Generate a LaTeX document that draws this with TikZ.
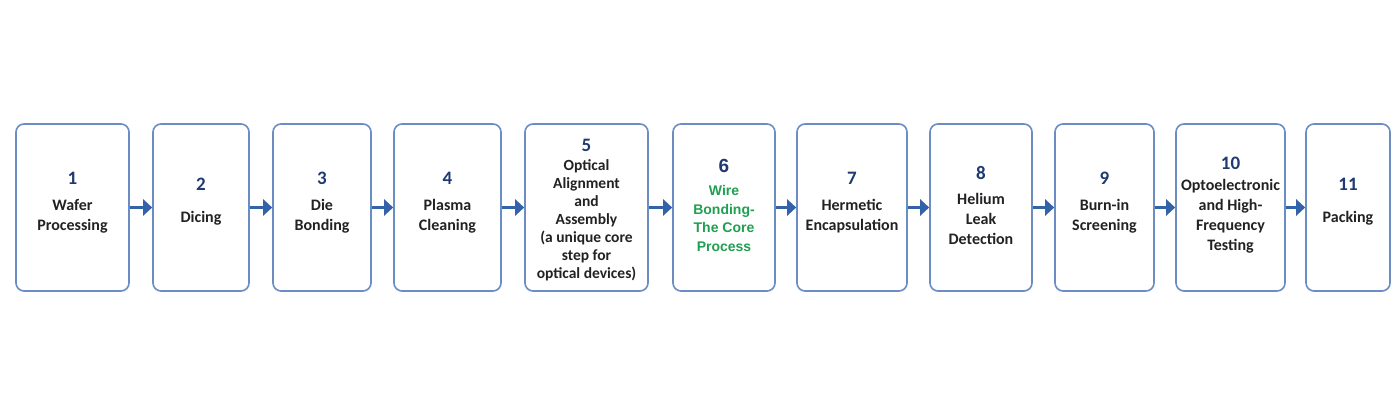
\documentclass[tikz,border=0pt]{standalone}
\usepackage{fontspec}
\setmainfont{Carlito}
\newfontfamily\arialfont{Liberation Sans}
\usetikzlibrary{arrows.meta}
\definecolor{boxc}{HTML}{6C8CC4}
\definecolor{arrc}{HTML}{3462A8}
\definecolor{numc}{HTML}{1F3A70}
\definecolor{txtc}{HTML}{222222}
\definecolor{grn}{HTML}{1FA050}
\newcommand{\stepnum}[1]{{\fontsize{19}{20}\selectfont\color{numc}#1}}
\tikzset{
  stepbox/.style={draw=boxc, line width=1.6pt, rounded corners=8pt, fill=white,
    minimum height=167pt, inner sep=0pt},
  lbl/.style={align=center, text=txtc, font=\bfseries\fontsize{16}{20}\selectfont, inner sep=0pt},
  flow/.style={draw=arrc, line width=3.6pt, -{Triangle[width=16pt,length=9pt]}, shorten >=0pt}
}
\begin{document}
\begin{tikzpicture}[x=1pt,y=-1pt]
\useasboundingbox (0,0) rectangle (1400,409);
\fill[white] (0,0) rectangle (1400,409);
% boxes
\node[stepbox, minimum width=113pt] (b1) at (72.5,207.5) {};
\node[stepbox, minimum width=96pt]  (b2) at (201,207.5) {};
\node[stepbox, minimum width=98pt]  (b3) at (322,207.5) {};
\node[stepbox, minimum width=107pt] (b4) at (447.5,207.5) {};
\node[stepbox, minimum width=123pt] (b5) at (586.5,207.5) {};
\node[stepbox, minimum width=102pt] (b6) at (724,207.5) {};
\node[stepbox, minimum width=110pt] (b7) at (852,207.5) {};
\node[stepbox, minimum width=102pt] (b8) at (981,207.5) {};
\node[stepbox, minimum width=99pt]  (b9) at (1104.5,207.5) {};
\node[stepbox, minimum width=109pt] (b10) at (1230.5,207.5) {};
\node[stepbox, minimum width=84pt]  (b11) at (1348,207.5) {};
% labels
\node[lbl] (t1) at (72.5,203) {\stepnum{1}\\[6pt]Wafer\\Processing};
\node[lbl] (t2) at (201,202) {\stepnum{2}\\[12pt]Dicing};
\node[lbl] (t3) at (322,203) {\stepnum{3}\\[6pt]Die\\Bonding};
\node[lbl] (t4) at (447.5,203) {\stepnum{4}\\[6pt]Plasma\\Cleaning};
\node[lbl, font=\bfseries\fontsize{15.5}{18}\selectfont] (t5) at (586.5,210)
  {\stepnum{5}\\[1pt]Optical\\Alignment\\and\\Assembly\\(a unique core\\step for\\optical devices)};
\node[lbl, text=grn, font=\arialfont\bfseries\fontsize{14}{18.5}\selectfont] (t6) at (724,205)
  {\stepnum{6}\\[5pt]Wire\\Bonding-\\The Core\\Process};
\node[lbl] (t7) at (852,203) {\stepnum{7}\\[6pt]Hermetic\\Encapsulation};
\node[lbl] (t8) at (981,205) {\stepnum{8}\\[5pt]Helium\\Leak\\Detection};
\node[lbl] (t9) at (1104.5,203) {\stepnum{9}\\[6pt]Burn-in\\Screening};
\node[lbl] (t10) at (1230.5,205) {\stepnum{10}\\[1pt]Optoelectronic\\and High-\\Frequency\\Testing};
\node[lbl] (t11) at (1348,202) {\stepnum{11}\\[12pt]Packing};
% arrows
\foreach \a/\b in {b1/b2,b2/b3,b3/b4,b4/b5,b5/b6,b6/b7,b7/b8,b8/b9,b9/b10,b10/b11}
  \draw[flow] (\a.east) -- (\b.west);
\end{tikzpicture}
\end{document}
